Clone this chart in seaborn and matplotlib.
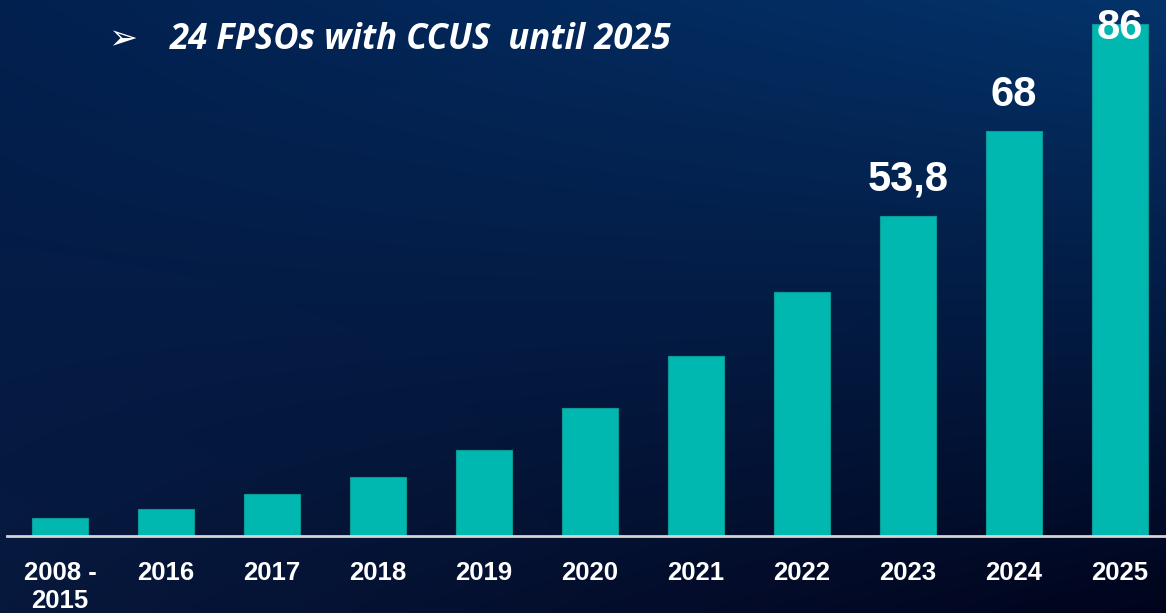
import numpy as np
import matplotlib.pyplot as plt
import matplotlib.colors as mcolors
import seaborn as sns

# data
years = ["2008 -\n2015", "2016", "2017", "2018", "2019", "2020",
         "2021", "2022", "2023", "2024", "2025"]
values = [3.0, 4.5, 7.1, 9.9, 14.5, 21.5, 30.3, 41.0, 53.8, 68.0, 86.0]
value_labels = {"2023": "53,8", "2024": "68", "2025": "86"}
title = "24 FPSOs with CCUS  until 2025"

sns.set_theme(style="white")
plt.rcParams["font.family"] = ["Liberation Sans", "DejaVu Sans"]

fig = plt.figure(figsize=(11.66, 6.13), dpi=100)

# background gradient (corner colours, bilinear blend)
tl, tr = np.array(mcolors.to_rgb("#02204f")), np.array(mcolors.to_rgb("#04336a"))
bl, br = np.array(mcolors.to_rgb("#07183c")), np.array(mcolors.to_rgb("#01041c"))
u = np.linspace(0, 1, 300)[None, :, None]
v = np.linspace(0, 1, 160)[:, None, None]
grad = (1 - v) * ((1 - u) * tl + u * tr) + v * ((1 - u) * bl + u * br)
bg = fig.add_axes([0, 0, 1, 1], zorder=0)
bg.imshow(grad, aspect="auto", extent=[0, 1, 0, 1], interpolation="bicubic")
bg.axis("off")

ax = fig.add_axes([7 / 1166, 77 / 613, 1166 / 1166, 512 / 613], zorder=1)
ax.set_facecolor("none")
sns.barplot(x=years, y=values, color="#00b8b0", saturation=1, width=0.52,
            edgecolor="#0a9a95", linewidth=0.8, ax=ax)
ax.set_xlim(-0.5, 10.5)
ax.set_ylim(0, 86)
ax.set_xlabel("")
ax.set_ylabel("")
ax.set_yticks([])
for s in ["top", "right", "left"]:
    ax.spines[s].set_visible(False)
ax.spines["bottom"].set_color("#d4d4d4")
ax.spines["bottom"].set_linewidth(2)
ax.tick_params(axis="x", length=0, pad=18, colors="white")
for lab in ax.get_xticklabels():
    lab.set_fontsize(18.5)
    lab.set_fontweight("bold")
    lab.set_linespacing(1.2)
    lab.set_verticalalignment("top")

last = len(years) - 1
for i, (yr, val) in enumerate(zip(years, values)):
    if yr in value_labels:
        off = 26 if i < last else -3
        ax.annotate(value_labels[yr], (i, val), xytext=(0, off),
                    textcoords="offset points", ha="center", va="center",
                    color="white", fontsize=30, fontweight="bold",
                    annotation_clip=False)

fig.text(108 / 1166, 1 - 39 / 613, "➢", family=["DejaVu Sans"], fontsize=25,
         color="white", ha="left", va="center")
fig.text(170 / 1166, 1 - 40 / 613, title, family=["Open Sans", "DejaVu Sans"],
         fontsize=25, style="italic", fontweight="bold", color="white",
         ha="left", va="center")

fig.savefig("out.png", dpi=100)
